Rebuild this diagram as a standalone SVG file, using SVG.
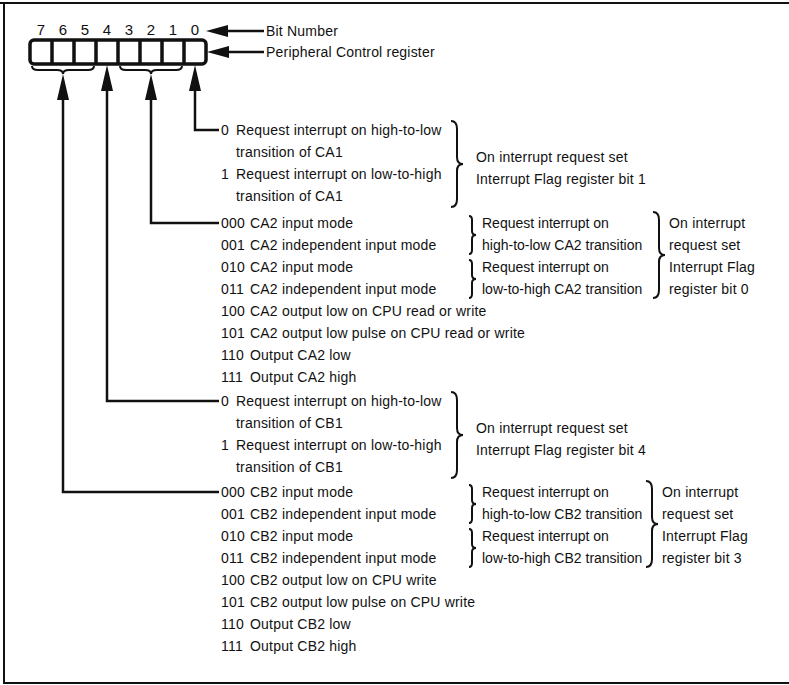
<svg xmlns="http://www.w3.org/2000/svg" width="789" height="685" viewBox="0 0 789 685">
<style>
text{font-family:"Liberation Sans",Arial,sans-serif;font-size:14px;letter-spacing:0.2px;fill:#111}
text.m{letter-spacing:0}
text.d{font-size:15px}
.ln{fill:none;stroke:#111;stroke-width:2.5}
.br{fill:none;stroke:#111;stroke-width:2}
.ah{fill:#111;stroke:none}
.frame{fill:none;stroke:#111;stroke-width:2}
</style>
<rect x="0" y="0" width="789" height="685" fill="#fff"/>
<path class="frame" d="M0,3 H789 M4,3 V683 H789"/>

<g id="register">
  <rect x="30" y="40" width="176" height="24" rx="4" fill="#fff" stroke="#111" stroke-width="3.5"/>
  <path d="M52,40V64M74,40V64M96,40V64M118,40V64M140,40V64M162,40V64M184,40V64" stroke="#111" stroke-width="3.5"/>
  <g text-anchor="middle">
    <text class="d" x="41" y="35">7</text><text class="d" x="63" y="35">6</text><text class="d" x="85" y="35">5</text><text class="d" x="107" y="35">4</text>
    <text class="d" x="129" y="35">3</text><text class="d" x="151" y="35">2</text><text class="d" x="173" y="35">1</text><text class="d" x="195" y="35">0</text>
  </g>
  <path class="br" d="M32,66 Q32,70 38,70 L57,70 Q63,70 63,74 Q63,70 69,70 L88,70 Q94,70 94,66"/>
  <path class="br" d="M120,66 Q120,70 126,70 L145,70 Q151,70 151,74 Q151,70 157,70 L176,70 Q182,70 182,66"/>
</g>

<g id="label-bitnumber">
  <polygon class="ah" points="206,31 228,25 228,37"/>
  <path class="ln" d="M228,31 H264"/>
  <text x="266" y="36">Bit Number</text>
</g>
<g id="label-register">
  <polygon class="ah" points="207,52 229,46 229,58"/>
  <path class="ln" d="M229,52 H264"/>
  <text x="266" y="57">Peripheral Control register</text>
</g>

<g id="connectors">
  <polygon class="ah" points="195,65 189,91 201,91"/>
  <path class="ln" d="M195,90 V130 H219"/>
  <polygon class="ah" points="151,74 145,100 157,100"/>
  <path class="ln" d="M151,99 V223 H219"/>
  <polygon class="ah" points="107,65 101,91 113,91"/>
  <path class="ln" d="M107,90 V401 H219"/>
  <polygon class="ah" points="63,74 57,100 69,100"/>
  <path class="ln" d="M63,99 V492 H219"/>
</g>

<g id="ca1">
  <text x="221" y="135">0</text><text x="236" y="135">Request interrupt on high-to-low</text>
  <text x="236" y="157">transition of CA1</text>
  <text x="221" y="179">1</text><text x="236" y="179">Request interrupt on low-to-high</text>
  <text x="236" y="201">transition of CA1</text>
  <path class="br" d="M451,121 Q457,121 457,129 L457,157 Q457,164 463,164 Q457,164 457,171 L457,199 Q457,207 451,207"/>
  <text x="476" y="162">On interrupt request set</text>
  <text x="476" y="184">Interrupt Flag register bit 1</text>
</g>

<g id="ca2">
  <text x="221" y="228">000</text><text x="250" y="228">CA2 input mode</text>
  <text x="221" y="250">001</text><text x="250" y="250">CA2 independent input mode</text>
  <text x="221" y="272">010</text><text x="250" y="272">CA2 input mode</text>
  <text x="221" y="294">011</text><text x="250" y="294">CA2 independent input mode</text>
  <text x="221" y="316">100</text><text x="250" y="316">CA2 output low on CPU read or write</text>
  <text x="221" y="338">101</text><text x="250" y="338">CA2 output low pulse on CPU read or write</text>
  <text x="221" y="360">110</text><text x="250" y="360">Output CA2 low</text>
  <text x="221" y="382">111</text><text x="250" y="382">Output CA2 high</text>
  <path class="br" d="M469,216 Q472,216 472,220 L472,231 Q472,235 476,235 Q472,235 472,239 L472,250 Q472,254 469,254"/>
  <path class="br" d="M469,260 Q472,260 472,264 L472,275 Q472,279 476,279 Q472,279 472,283 L472,294 Q472,298 469,298"/>
  <text class="m" x="482" y="228">Request interrupt on</text>
  <text class="m" x="482" y="250">high-to-low CA2 transition</text>
  <text class="m" x="482" y="272">Request interrupt on</text>
  <text class="m" x="482" y="294">low-to-high CA2 transition</text>
  <path class="br" d="M653,212 Q659,212 659,220 L659,248 Q659,255 665,255 Q659,255 659,262 L659,290 Q659,298 653,298"/>
  <text x="669" y="228">On interrupt</text>
  <text x="669" y="250">request set</text>
  <text x="669" y="272">Interrupt Flag</text>
  <text x="669" y="294">register bit 0</text>
</g>

<g id="cb1">
  <text x="221" y="406">0</text><text x="236" y="406">Request interrupt on high-to-low</text>
  <text x="236" y="428">transition of CB1</text>
  <text x="221" y="450">1</text><text x="236" y="450">Request interrupt on low-to-high</text>
  <text x="236" y="472">transition of CB1</text>
  <path class="br" d="M451,392 Q457,392 457,400 L457,428 Q457,435 463,435 Q457,435 457,442 L457,470 Q457,478 451,478"/>
  <text x="476" y="433">On interrupt request set</text>
  <text x="476" y="455">Interrupt Flag register bit 4</text>
</g>

<g id="cb2">
  <text x="221" y="497">000</text><text x="250" y="497">CB2 input mode</text>
  <text x="221" y="519">001</text><text x="250" y="519">CB2 independent input mode</text>
  <text x="221" y="541">010</text><text x="250" y="541">CB2 input mode</text>
  <text x="221" y="563">011</text><text x="250" y="563">CB2 independent input mode</text>
  <text x="221" y="585">100</text><text x="250" y="585">CB2 output low on CPU write</text>
  <text x="221" y="607">101</text><text x="250" y="607">CB2 output low pulse on CPU write</text>
  <text x="221" y="629">110</text><text x="250" y="629">Output CB2 low</text>
  <text x="221" y="651">111</text><text x="250" y="651">Output CB2 high</text>
  <path class="br" d="M469,485 Q472,485 472,489 L472,500 Q472,504 476,504 Q472,504 472,508 L472,519 Q472,523 469,523"/>
  <path class="br" d="M469,529 Q472,529 472,533 L472,544 Q472,548 476,548 Q472,548 472,552 L472,563 Q472,567 469,567"/>
  <text class="m" x="482" y="497">Request interrupt on</text>
  <text class="m" x="482" y="519">high-to-low CB2 transition</text>
  <text class="m" x="482" y="541">Request interrupt on</text>
  <text class="m" x="482" y="563">low-to-high CB2 transition</text>
  <path class="br" d="M646,481 Q652,481 652,489 L652,517 Q652,524 658,524 Q652,524 652,531 L652,559 Q652,567 646,567"/>
  <text x="662" y="497">On interrupt</text>
  <text x="662" y="519">request set</text>
  <text x="662" y="541">Interrupt Flag</text>
  <text x="662" y="563">register bit 3</text>
</g>
</svg>
